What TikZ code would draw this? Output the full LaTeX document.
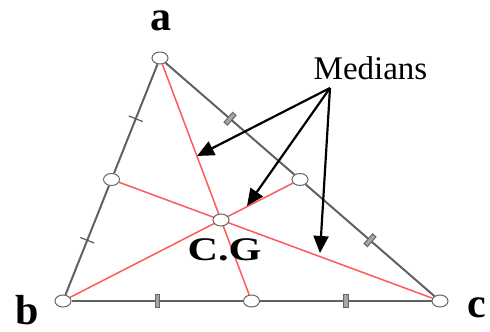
\documentclass[tikz,border=0pt]{standalone}
\usepackage{fontspec}
\setmainfont{Liberation Serif}
\usetikzlibrary{arrows.meta,backgrounds,shapes.geometric}
\begin{document}
\begin{tikzpicture}[x=1pt,y=-1pt,
  pt/.style={ellipse,draw=gray!80!black,fill=white,line width=1pt,minimum width=16pt,minimum height=12pt,inner sep=0pt},
  edge/.style={draw=black!62,line width=2pt},
  median/.style={draw=red!65,line width=1.5pt},
  tickone/.style={sloped,draw=black!65,line width=1.2pt,minimum width=0pt,minimum height=15pt,inner sep=0pt},
  ticktwo/.style={sloped,draw=black!60,fill=black!35,line width=1pt,minimum width=4.5pt,minimum height=13pt,inner sep=0pt},
  lbl/.style={font=\fontsize{42}{42}\selectfont\bfseries,inner sep=0pt,anchor=base},
  arr/.style={draw=black,line width=2.2pt,-{Triangle[length=17pt,width=15pt]}}]
\useasboundingbox (0,0) rectangle (490,332);
\node[pt] (a) at (160,58) {};
\node[pt] (b) at (63,301) {};
\node[pt] (c) at (440,301) {};
\node[pt] (mab) at (111.5,179.5) {};
\node[pt] (mac) at (300,179.5) {};
\node[pt] (mbc) at (251.5,301) {};
\node[pt] (g) at (221,220) {};
\begin{scope}[on background layer]
\draw[edge] (a) -- (mab) node[midway,tickone] {};
\draw[edge] (mab) -- (b) node[midway,tickone] {};
\draw[edge] (a) -- (mac) node[midway,ticktwo] {};
\draw[edge] (mac) -- (c) node[midway,ticktwo] {};
\draw[edge] (b) -- (mbc) node[midway,ticktwo] {};
\draw[edge] (mbc) -- (c) node[midway,ticktwo] {};
\draw[median] (a) -- (mbc);
\draw[median] (b) -- (mac);
\draw[median] (c) -- (mab);
\end{scope}
\node[lbl] (la) at (161,30) {a};
\node[lbl] (lb) at (27,324) {b};
\node[lbl] (lc) at (477,317) {c};
\node[font=\fontsize{33}{33}\selectfont\bfseries,inner sep=0pt,anchor=base,xscale=1.28] (lg) at (224.5,260) {C.G};
\node[font=\fontsize{33}{33}\selectfont,inner sep=0pt,anchor=base] (lm) at (370.5,79) {Medians};
\coordinate (src) at (330,88);
\coordinate (t1) at (197,156);
\coordinate (t2) at (247,206);
\coordinate (t3) at (320,253);
\draw[arr] (src) -- (t1);
\draw[arr] (src) -- (t2);
\draw[arr] (src) -- (t3);
\end{tikzpicture}
\end{document}
